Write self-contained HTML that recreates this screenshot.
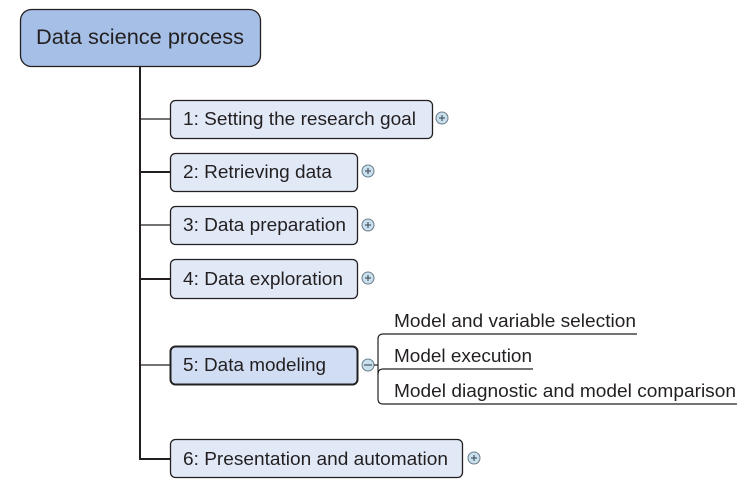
<!DOCTYPE html>
<html><head><meta charset="utf-8"><style>
html,body{margin:0;padding:0;background:#fff;}
svg{display:block;}
text{font-family:"Liberation Sans",Arial,sans-serif;fill:#231f20;}
</style></head><body>
<svg width="755" height="494" viewBox="0 0 755 494" xmlns="http://www.w3.org/2000/svg">
<g stroke="#231f20" fill="none">
<line x1="140" y1="66" x2="140" y2="459" stroke-width="2"/>
<line x1="139" y1="459" x2="170" y2="459" stroke-width="2"/>
<line x1="140" y1="119" x2="170" y2="119" stroke-width="1.2"/>
<line x1="140" y1="172" x2="170" y2="172" stroke-width="2"/>
<line x1="140" y1="225" x2="170" y2="225" stroke-width="1.2"/>
<line x1="140" y1="279" x2="170" y2="279" stroke-width="2"/>
<line x1="140" y1="365" x2="170" y2="365" stroke-width="1.2"/>
</g>
<rect x="20.5" y="9.5" width="240" height="57" rx="11" fill="#a5bfe6" stroke="#231f20" stroke-width="1.3"/>
<text x="36" y="44" font-size="21" textLength="208" lengthAdjust="spacingAndGlyphs">Data science process</text>
<g fill="#e1e9f7" stroke="#231f20" stroke-width="1.3">
<rect x="170.5" y="100.5" width="262" height="38" rx="5"/>
<rect x="170.5" y="153.5" width="187" height="38" rx="5"/>
<rect x="170.5" y="206.5" width="187" height="38" rx="5"/>
<rect x="170.5" y="259.5" width="187" height="39" rx="5"/>
<rect x="170.5" y="346.5" width="187" height="38" rx="5" fill="#d0ddf3" stroke-width="2"/>
<rect x="170.5" y="439.5" width="292" height="38" rx="5"/>
</g>
<g font-size="18" lengthAdjust="spacingAndGlyphs">
<text x="183" y="125" textLength="233" lengthAdjust="spacingAndGlyphs">1: Setting the research goal</text>
<text x="183" y="178" textLength="149" lengthAdjust="spacingAndGlyphs">2: Retrieving data</text>
<text x="183" y="231" textLength="163" lengthAdjust="spacingAndGlyphs">3: Data preparation</text>
<text x="183" y="285" textLength="160" lengthAdjust="spacingAndGlyphs">4: Data exploration</text>
<text x="183" y="371" textLength="143" lengthAdjust="spacingAndGlyphs">5: Data modeling</text>
<text x="183" y="465" textLength="265" lengthAdjust="spacingAndGlyphs">6: Presentation and automation</text>
</g>
<g stroke="#6b7b88" stroke-width="1" fill="#c9e0ef">
<circle cx="442" cy="118" r="6"/>
<circle cx="368" cy="171" r="6"/>
<circle cx="368" cy="225" r="6"/>
<circle cx="368" cy="278" r="6"/>
<circle cx="368" cy="365" r="6"/>
<circle cx="474" cy="458" r="6"/>
</g>
<g stroke="#4b5560" stroke-width="1.2">
<line x1="439" y1="118" x2="445" y2="118"/><line x1="442" y1="115" x2="442" y2="121"/>
<line x1="365" y1="171" x2="371" y2="171"/><line x1="368" y1="168" x2="368" y2="174"/>
<line x1="365" y1="225" x2="371" y2="225"/><line x1="368" y1="222" x2="368" y2="228"/>
<line x1="365" y1="278" x2="371" y2="278"/><line x1="368" y1="275" x2="368" y2="281"/>
<line x1="364" y1="365" x2="372" y2="365"/>
<line x1="471" y1="458" x2="477" y2="458"/><line x1="474" y1="455" x2="474" y2="461"/>
</g>
<g stroke="#231f20" stroke-width="1.2" fill="none">
<line x1="374" y1="365" x2="378" y2="365"/>
<path d="M637 334 H383 Q378 334 378 339 V399 Q378 404 383 404 H737"/>
<path d="M533 369 H383 Q378 369 378 374"/>
</g>
<g font-size="18">
<text x="394" y="327" textLength="242" lengthAdjust="spacingAndGlyphs">Model and variable selection</text>
<text x="394" y="362" textLength="138" lengthAdjust="spacingAndGlyphs">Model execution</text>
<text x="394" y="397" textLength="342" lengthAdjust="spacingAndGlyphs">Model diagnostic and model comparison</text>
</g>
</svg>
</body></html>
